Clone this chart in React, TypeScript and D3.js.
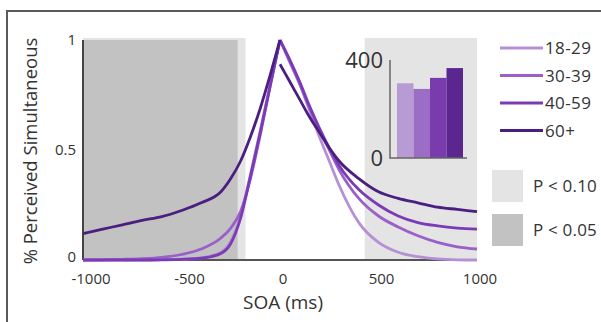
import React, { useRef, useEffect } from 'react';
import * as d3 from 'd3';

const groups = ['18-29', '30-39', '40-59', '60+'];
const groupColors = ['#b590d6', '#9a5fc8', '#7b3bb6', '#4a1f80'];
const barColors = ['#b89bd4', '#9c6dc4', '#7a3bad', '#5b2690'];

// SOA sample points (ms)
const soaLeft = [-1000, -900, -800, -700, -600, -500, -400, -300, -250, -200, -150, -100, -50, 0];
const soaRight = [0, 50, 100, 150, 200, 250, 300, 400, 500, 600, 700, 800, 900, 1000];

// proportion perceived simultaneous, negative SOA
const left1829 = [0, 0, 0, 0, 0.002, 0.004, 0.01, 0.035, 0.085, 0.2, 0.39, 0.59, 0.8, 1.0];
const left3039 = [0, 0.001, 0.003, 0.006, 0.012, 0.025, 0.05, 0.1, 0.145, 0.22, 0.37, 0.57, 0.79, 1.0];
const left4059 = [0, 0, 0, 0, 0.001, 0.003, 0.008, 0.03, 0.075, 0.19, 0.38, 0.58, 0.79, 1.0];
const left60 = [0.12, 0.14, 0.16, 0.18, 0.197, 0.225, 0.26, 0.31, 0.37, 0.45, 0.56, 0.69, 0.84, 1.0];

// positive SOA
const right1829 = [1.0, 0.9, 0.8, 0.68, 0.56, 0.45, 0.34, 0.17, 0.08, 0.035, 0.015, 0.005, 0.001, 0];
const right3039 = [1.0, 0.9, 0.8, 0.69, 0.59, 0.5, 0.41, 0.28, 0.2, 0.15, 0.11, 0.08, 0.06, 0.05];
const right4059 = [1.0, 0.91, 0.81, 0.7, 0.6, 0.51, 0.43, 0.32, 0.25, 0.2, 0.17, 0.155, 0.145, 0.14];
const right60 = [0.89, 0.81, 0.73, 0.65, 0.58, 0.51, 0.45, 0.37, 0.31, 0.28, 0.26, 0.24, 0.23, 0.22];

// inset: window width per group
const barValues = [305, 282, 327, 367];

// significance windows [from, to] in ms
const sig10 = [[-1000, -175], [430, 1000]];
const sig05 = [[-1000, -215]];

const xTicks = [-1000, -500, 0, 500, 1000];
const yTicks = [0, 0.5, 1];

const FONT = "'Open Sans', sans-serif";
const INK = '#333';

const App = () => {
  const svgRef = useRef<SVGSVGElement>(null);

  useEffect(() => {
    const svg = d3.select(svgRef.current);
    svg.selectAll('*').remove();

    const x = d3.scaleLinear().domain([-1000, 1000]).range([83, 477]);
    const y = d3.scaleLinear().domain([0, 1]).range([260, 40]);

    // frame
    svg.append('path')
      .attr('d', 'M7,322 L7,11 L601,11')
      .style('fill', 'none')
      .style('stroke', '#5a5a5a')
      .style('stroke-width', 2);

    // shaded windows
    svg.selectAll('rect.s10').data(sig10).enter().append('rect')
      .attr('x', (d) => x(d[0]))
      .attr('width', (d) => x(d[1]) - x(d[0]))
      .attr('y', y(1) - 2)
      .attr('height', y(0) - y(1) + 2)
      .style('fill', '#e4e4e4');
    svg.selectAll('rect.s05').data(sig05).enter().append('rect')
      .attr('x', (d) => x(d[0]))
      .attr('width', (d) => x(d[1]) - x(d[0]))
      .attr('y', y(1))
      .attr('height', y(0) - y(1))
      .style('fill', '#c2c2c2');

    // axes lines
    svg.append('line')
      .attr('x1', x(-1000)).attr('x2', x(1000))
      .attr('y1', y(0)).attr('y2', y(0))
      .style('stroke', '#555').style('stroke-width', 2);
    svg.append('line')
      .attr('x1', x(-1000)).attr('x2', x(-1000))
      .attr('y1', y(0)).attr('y2', y(1))
      .style('stroke', '#444').style('stroke-width', 2);

    svg.selectAll('text.xt').data(xTicks).enter().append('text')
      .attr('x', (d) => x(d) + (d < 0 ? 8 : 3))
      .attr('y', 284)
      .attr('text-anchor', 'middle')
      .style('font-family', FONT).style('font-size', 15).style('fill', INK)
      .text((d) => d);
    svg.selectAll('text.yt').data(yTicks).enter().append('text')
      .attr('x', 76)
      .attr('y', (d) => y(d) + (d === 0 ? 2 : 5))
      .attr('text-anchor', 'end')
      .style('font-family', FONT).style('font-size', 15).style('fill', INK)
      .text((d) => d);

    svg.append('text')
      .attr('x', 283).attr('y', 309)
      .attr('text-anchor', 'middle')
      .style('font-family', FONT).style('font-size', 19).style('fill', INK)
      .text('SOA (ms)');
    svg.append('text')
      .attr('transform', 'translate(37,151) rotate(-90)')
      .attr('text-anchor', 'middle')
      .style('font-family', FONT).style('font-size', 18.5).style('fill', INK)
      .text('% Perceived Simultaneous');

    // curves
    const leftSeries = [left1829, left3039, left4059, left60];
    const rightSeries = [right1829, right3039, right4059, right60];
    const lineLeft = d3.line<number>().x((d, i) => x(soaLeft[i])).y((d) => y(d)).curve(d3.curveMonotoneX);
    const lineRight = d3.line<number>().x((d, i) => x(soaRight[i])).y((d) => y(d)).curve(d3.curveMonotoneX);
    const curves = svg.append('g');
    [0, 1, 2, 3].forEach((g) => {
      curves.append('path').attr('d', lineLeft(leftSeries[g]))
        .style('fill', 'none').style('stroke', groupColors[g]).style('stroke-width', 2.8);
      curves.append('path').attr('d', lineRight(rightSeries[g]))
        .style('fill', 'none').style('stroke', groupColors[g]).style('stroke-width', 2.8);
    });

    // inset bar chart
    const bx = d3.scaleBand().domain(groups).range([397, 463]).padding(0);
    const by = d3.scaleLinear().domain([0, 400]).range([158, 60]);
    svg.selectAll('rect.bar').data(barValues).enter().append('rect')
      .attr('x', (d, i) => bx(groups[i]))
      .attr('width', bx.bandwidth())
      .attr('y', (d) => by(d))
      .attr('height', (d) => by(0) - by(d))
      .style('fill', (d, i) => barColors[i]);
    svg.append('path')
      .attr('d', `M390,${by(400)} L390,${by(0)} L467,${by(0)}`)
      .style('fill', 'none').style('stroke', '#666').style('stroke-width', 1.5);
    svg.selectAll('text.by').data([0, 400]).enter().append('text')
      .attr('x', 383)
      .attr('y', (d) => by(d) + 8)
      .attr('text-anchor', 'end')
      .style('font-family', FONT).style('font-size', 22).style('fill', INK)
      .text((d) => d);

    // legend
    const legend = svg.append('g');
    groups.forEach((g, i) => {
      const ly = 48 + i * 27.5;
      legend.append('line')
        .attr('x1', 500).attr('x2', 543).attr('y1', ly).attr('y2', ly)
        .style('stroke', groupColors[i]).style('stroke-width', 3);
      legend.append('text')
        .attr('x', 545).attr('y', ly + 6)
        .style('font-family', FONT).style('font-size', 17).style('letter-spacing', 0.4).style('fill', INK)
        .text(g);
    });
    const sigLegend = [['P < 0.10', '#e4e4e4'], ['P < 0.05', '#c2c2c2']];
    sigLegend.forEach((s, i) => {
      const sy = 170 + i * 44;
      legend.append('rect')
        .attr('x', 492).attr('y', sy).attr('width', 31).attr('height', 32)
        .style('fill', s[1]);
      legend.append('text')
        .attr('x', 533).attr('y', sy + 22)
        .style('font-family', FONT).style('font-size', 17).style('letter-spacing', 0.2).style('fill', INK)
        .text(s[0]);
    });
  }, []);

  return (
    <svg ref={svgRef} width={601} height={322}
      style={{ position: 'absolute', left: 0, top: 0, background: '#fff' }} />
  );
};

export default App;
